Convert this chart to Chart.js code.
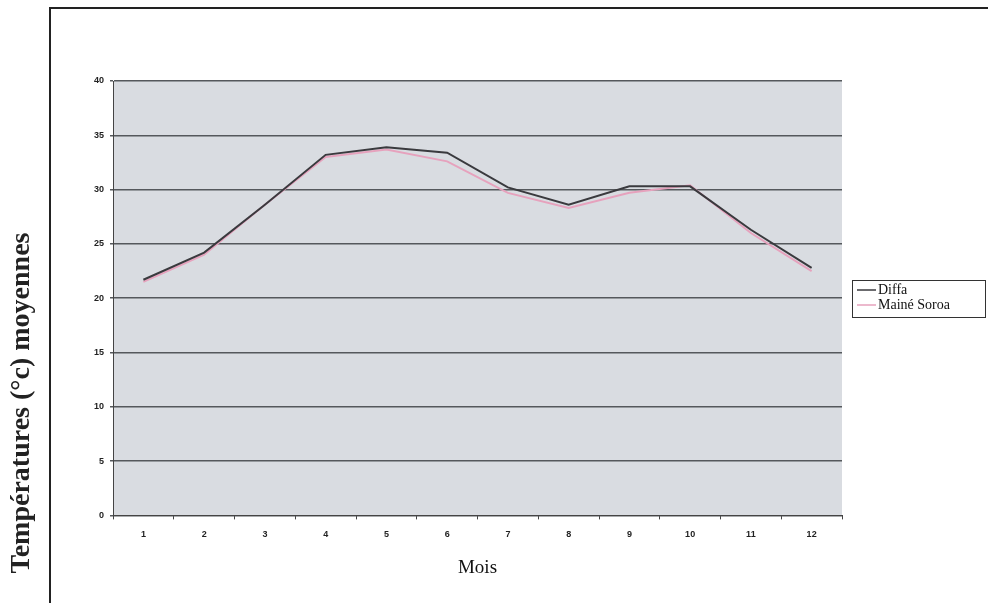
<!DOCTYPE html>
<html lang="fr">
<head>
  <meta charset="UTF-8" />
  <title>Températures moyennes - Diffa / Mainé Soroa</title>
  <script src="https://cdn.jsdelivr.net/npm/chart.js"></script>
  <style>
    html, body {
      margin: 0;
      padding: 0;
      background: #fff;
    }
    #wrap {
      width: 988px;
      height: 603px;
      position: relative;
    }
  </style>
</head>
<body>
  <div id="wrap">
    <canvas id="tempChart" width="988" height="603"></canvas>
  </div>

  <script>
    const mois = ['1', '2', '3', '4', '5', '6', '7', '8', '9', '10', '11', '12'];
    const diffa = [21.7, 24.2, 28.6, 33.2, 33.9, 33.4, 30.2, 28.6, 30.3, 30.3, 26.3, 22.8];
    const maineSoroa = [21.5, 24.0, 28.6, 33.0, 33.7, 32.6, 29.7, 28.3, 29.7, 30.4, 26.0, 22.5];
    const yTicks = [0, 5, 10, 15, 20, 25, 30, 35, 40];
    const yTitle = 'Températures (°c) moyennes';

    const serif = '"Liberation Serif", "Times New Roman", serif';

    // cadre du document, fond gris du tracé, titre vertical et légende encadrée
    const decor = {
      id: 'decor',
      beforeDraw(chart) {
        const ctx = chart.ctx;
        const a = chart.chartArea;
        ctx.save();
        ctx.fillStyle = '#d9dce1';
        ctx.fillRect(a.left, a.top, a.right - a.left, a.bottom - a.top);
        ctx.strokeStyle = '#222';
        ctx.lineWidth = 2;
        ctx.beginPath();
        ctx.moveTo(50, 603);
        ctx.lineTo(50, 8);
        ctx.lineTo(988, 8);
        ctx.stroke();
        ctx.restore();
      },
      afterDraw(chart) {
        const ctx = chart.ctx;
        const a = chart.chartArea;
        ctx.save();

        // titre de l'axe vertical
        ctx.translate(22, 403);
        ctx.rotate(-Math.PI / 2);
        ctx.fillStyle = '#222';
        ctx.font = 'bold 28px ' + serif;
        ctx.textAlign = 'center';
        ctx.textBaseline = 'middle';
        ctx.fillText(yTitle, 0, 0);
        ctx.setTransform(1, 0, 0, 1, 0, 0);

        // légende
        const bx = a.right + 10;
        const by = 280;
        ctx.strokeStyle = '#333';
        ctx.lineWidth = 1;
        ctx.strokeRect(bx + 0.5, by + 0.5, 133, 37);
        ctx.font = '14px ' + serif;
        ctx.textAlign = 'left';
        ctx.textBaseline = 'middle';
        chart.data.datasets.forEach((ds, i) => {
          const y = by + 10 + i * 15;
          ctx.strokeStyle = ds.borderColor;
          ctx.lineWidth = 1.5;
          ctx.beginPath();
          ctx.moveTo(bx + 5, y);
          ctx.lineTo(bx + 24, y);
          ctx.stroke();
          ctx.fillStyle = '#111';
          ctx.fillText(ds.label, bx + 26, y);
        });
        ctx.restore();
      }
    };

    const ctx = document.getElementById('tempChart').getContext('2d');
    new Chart(ctx, {
      type: 'line',
      data: {
        labels: mois,
        datasets: [
          {
            label: 'Diffa',
            data: diffa,
            borderColor: '#3a3a3e',
            borderWidth: 2,
            pointRadius: 0,
            tension: 0,
            fill: false
          },
          {
            label: 'Mainé Soroa',
            data: maineSoroa,
            borderColor: '#e6a2bd',
            borderWidth: 2,
            pointRadius: 0,
            tension: 0,
            fill: false
          }
        ]
      },
      options: {
        responsive: false,
        animation: false,
        layout: {
          padding: { left: 88, right: 146, top: 81, bottom: 24 }
        },
        plugins: {
          title: { display: false },
          tooltip: { enabled: false },
          legend: { display: false }
        },
        scales: {
          x: {
            offset: true,
            grid: {
              display: true,
              drawOnChartArea: false,
              drawTicks: true,
              tickLength: 4,
              offset: true,
              color: '#444'
            },
            border: { color: '#444', width: 1 },
            ticks: {
              color: '#222',
              padding: 10,
              font: { family: 'Arial, sans-serif', size: 9, weight: 'bold' }
            },
            title: {
              display: true,
              text: 'Mois',
              color: '#111',
              padding: { top: 6, bottom: 0 },
              font: { family: serif, size: 19 }
            }
          },
          y: {
            min: 0,
            max: 40,
            afterBuildTicks(axis) {
              axis.ticks = yTicks.map(v => ({ value: v }));
            },
            grid: {
              color: '#55585c',
              lineWidth: 1.5,
              tickLength: 3
            },
            border: { color: '#444', width: 1 },
            ticks: {
              color: '#222',
              padding: 6,
              font: { family: 'Arial, sans-serif', size: 9, weight: 'bold' }
            }
          }
        }
      },
      plugins: [decor]
    });
  </script>
</body>
</html>
